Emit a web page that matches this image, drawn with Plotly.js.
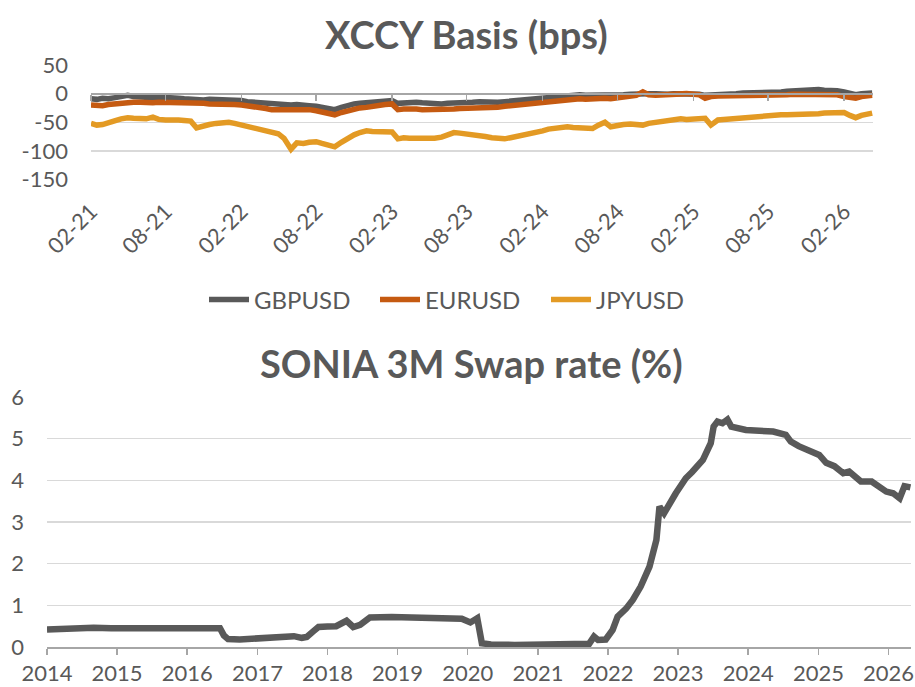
<!DOCTYPE html>
<html>
<head>
<meta charset="utf-8">
<script src="https://cdn.plot.ly/plotly-3.0.1.min.js"></script>
<style>html,body{margin:0;padding:0;background:#fff;}#chart{width:915px;height:687px;}</style>
</head>
<body>
<div id="chart"></div>
<script>
// ---- XCCY basis (bps), semi-monthly ----
var xccyDates = [
"2021-02-01","2021-02-15","2021-03-01","2021-03-15","2021-04-01","2021-04-15","2021-05-01","2021-05-15","2021-06-01","2021-06-15","2021-07-01","2021-07-15","2021-08-01","2021-08-15","2021-09-01","2021-09-15","2021-10-01","2021-10-15","2021-11-01","2021-11-15","2021-12-01","2021-12-15",
"2022-01-01","2022-01-15","2022-02-01","2022-02-15","2022-03-01","2022-03-15","2022-04-01","2022-04-15","2022-05-01","2022-05-15","2022-06-01","2022-06-15","2022-07-01","2022-07-15","2022-08-01","2022-08-15","2022-09-01","2022-09-15","2022-10-01","2022-10-15","2022-11-01","2022-11-15","2022-12-01","2022-12-15",
"2023-01-01","2023-01-15","2023-02-01","2023-02-15","2023-03-01","2023-03-15","2023-04-01","2023-04-15","2023-05-01","2023-05-15","2023-06-01","2023-06-15","2023-07-01","2023-07-15","2023-08-01","2023-08-15","2023-09-01","2023-09-15","2023-10-01","2023-10-15","2023-11-01","2023-11-15","2023-12-01","2023-12-15",
"2024-01-01","2024-01-15","2024-02-01","2024-02-15","2024-03-01","2024-03-15","2024-04-01","2024-04-15","2024-05-01","2024-05-15","2024-06-01","2024-06-15","2024-07-01","2024-07-15","2024-08-01","2024-08-15","2024-09-01","2024-09-15","2024-10-01","2024-10-15","2024-11-01","2024-11-15","2024-12-01","2024-12-15",
"2025-01-01","2025-01-15","2025-02-01","2025-02-15","2025-03-01","2025-03-15","2025-04-01","2025-04-15","2025-05-01","2025-05-15","2025-06-01","2025-06-15","2025-07-01","2025-07-15","2025-08-01","2025-08-15","2025-09-01","2025-09-15","2025-10-01","2025-10-15","2025-11-01","2025-11-15","2025-12-01","2025-12-15",
"2026-01-01","2026-01-15","2026-02-01","2026-02-15","2026-03-01","2026-03-15","2026-04-01","2026-04-10"
];
var gbpusd = [
-9,-10,-8,-9,-7,-5,-3,-5,-6,-5,-7,-6,-6,-7,-8,-9,-10,-9,-11,-10,-10,-11,
-11,-12,-12,-14,-15,-16,-17,-18,-19,-18,-20,-19,-19,-21,-22,-24,-26,-28,-24,-21,-18,-17,-16,-15,
-14,-13,-12,-17,-16,-15,-15,-16,-17,-18,-18,-17,-17,-16,-16,-15,-14,-15,-16,-15,-14,-13,-12,-11,
-10,-10,-9,-8,-7,-6,-5,-4,-2,-3,-3,-4,-3,-3,-2,-2,-1,0,1,0,0,-1,-1,0,
0,0,0,-1,-3,-2,-1,-1,0,0,1,1,2,1,2,3,3,4,5,5,6,6,7,6,
6,5,3,1,-2,0,1,1
];
var eurusd = [
-20,-21,-21,-19,-18,-16,-14,-15,-15,-16,-16,-15,-15,-16,-16,-17,-17,-16,-17,-18,-18,-17,
-19,-19,-20,-21,-22,-24,-26,-28,-28,-27,-27,-26,-26,-28,-30,-32,-35,-37,-33,-30,-27,-25,-24,-22,
-20,-19,-18,-28,-27,-26,-27,-28,-28,-29,-28,-27,-27,-26,-26,-25,-25,-24,-25,-24,-22,-21,-19,-18,
-17,-16,-15,-14,-13,-12,-11,-10,-9,-10,-9,-9,-8,-9,-8,-7,-6,-3,3,-2,-3,-2,-1,-1,
-1,0,-1,-2,-8,-5,-4,-4,-4,-3,-4,-3,-3,-3,-3,-2,-2,-2,-1,-1,0,0,0,0,
-1,-2,-5,-6,-8,-5,-3,-3
];
var jpyusd = [
-52,-55,-54,-50,-47,-44,-42,-43,-43,-44,-41,-45,-46,-45,-46,-47,-48,-60,-56,-54,-52,-51,
-50,-52,-55,-57,-60,-62,-66,-68,-70,-78,-97,-86,-87,-85,-84,-87,-89,-93,-85,-78,-72,-68,-65,-66,
-66,-67,-67,-79,-77,-78,-78,-79,-79,-78,-76,-72,-68,-69,-70,-72,-73,-75,-77,-79,-79,-77,-75,-72,
-70,-67,-65,-62,-60,-59,-58,-59,-60,-61,-61,-55,-50,-58,-55,-54,-53,-54,-55,-52,-50,-48,-46,-45,
-44,-45,-44,-43,-43,-55,-46,-45,-44,-43,-41,-41,-40,-39,-38,-38,-37,-37,-37,-36,-36,-35,-35,-34,
-34,-33,-33,-38,-42,-38,-35,-34
];
var xccyTicks = ["2021-02-01","2021-08-01","2022-02-01","2022-08-01","2023-02-01","2023-08-01","2024-02-01","2024-08-01","2025-02-01","2025-08-01","2026-02-01"];
var xccyTickText = ["02-21","08-21","02-22","08-22","02-23","08-23","02-24","08-24","02-25","08-25","02-26"];
var xccyYTicks = [50, 0, -50, -100, -150];
var xccyYTickText = ["50", "0", "-50", "-100", "-150"];

// ---- SONIA 3M swap rate (%) ----
var soniaDates = [
"2014-01-01","2014-03-01","2014-05-01","2014-06-15","2014-09-01","2014-12-01","2015-03-01","2015-06-01","2015-09-01","2015-12-01",
"2016-03-01","2016-05-15","2016-06-20","2016-07-10","2016-08-01","2016-10-01","2017-01-01","2017-04-01","2017-06-15","2017-07-10",
"2017-08-20","2017-09-15","2017-10-20","2017-11-15","2018-01-01","2018-02-15","2018-04-10","2018-05-15","2018-06-20","2018-08-10",
"2018-12-01","2019-04-01","2019-08-01","2019-12-01","2020-01-15","2020-02-20","2020-03-15","2020-05-01","2020-09-01","2021-01-01",
"2021-05-01","2021-09-01","2021-09-25","2021-10-20","2021-11-10","2021-12-20","2022-01-25","2022-02-20","2022-04-05","2022-05-10",
"2022-06-20","2022-08-05","2022-09-10","2022-09-26","2022-10-20","2022-12-20","2023-02-10","2023-03-15","2023-05-10","2023-06-20",
"2023-07-05","2023-07-25","2023-08-20","2023-09-15","2023-10-05","2023-12-20","2024-03-01","2024-05-10","2024-07-15","2024-08-10",
"2024-09-20","2024-10-30","2025-01-05","2025-02-10","2025-03-25","2025-05-10","2025-06-10","2025-08-10","2025-10-05","2025-12-20",
"2026-01-25","2026-02-28","2026-03-25","2026-04-25"
];
var sonia3m = [
0.42,0.43,0.44,0.47,0.46,0.45,0.45,0.46,0.47,0.47,
0.47,0.46,0.45,0.28,0.19,0.18,0.20,0.21,0.22,0.26,
0.22,0.24,0.38,0.48,0.49,0.50,0.63,0.48,0.53,0.71,
0.72,0.71,0.70,0.68,0.59,0.69,0.09,0.06,0.05,0.05,
0.05,0.07,0.08,0.25,0.17,0.18,0.41,0.73,0.92,1.13,
1.45,1.93,2.57,3.37,3.21,3.69,4.05,4.20,4.49,4.89,
5.29,5.41,5.37,5.46,5.29,5.21,5.19,5.17,5.09,4.93,
4.82,4.73,4.61,4.42,4.34,4.17,4.21,3.97,3.97,3.73,
3.69,3.57,3.86,3.83
];
var soniaTicks = ["2014-01-01","2015-01-01","2016-01-01","2017-01-01","2018-01-01","2019-01-01","2020-01-01","2021-01-01","2022-01-01","2023-01-01","2024-01-01","2025-01-01","2026-01-01"];
var soniaTickText = ["2014","2015","2016","2017","2018","2019","2020","2021","2022","2023","2024","2025","2026"];

var FONT = "Lato, 'Open Sans', sans-serif";
var TXT = "#595959";
var GRID = "#D9D9D9";
var AX = "#A6A6A6";

var topDom = [1 - 179.5/687, 1 - 65/687];
var botDom = [1 - 647/687, 1 - 397/687];
var topRange = [-150, 50];
var zeroPos = topDom[0] + (0 - topRange[0]) / (topRange[1] - topRange[0]) * (topDom[1] - topDom[0]);

var traces = [
  {x: [], y: [], type: "scatter", mode: "lines", xaxis: "x3", yaxis: "y", showlegend: false, hoverinfo: "skip"},
  {x: xccyDates, y: gbpusd, name: "GBPUSD", type: "scatter", mode: "lines", xaxis: "x", yaxis: "y",
   line: {color: "#595959", width: 5.5}},
  {x: xccyDates, y: eurusd, name: "EURUSD", type: "scatter", mode: "lines", xaxis: "x", yaxis: "y",
   line: {color: "#C55A11", width: 5.5}},
  {x: xccyDates, y: jpyusd, name: "JPYUSD", type: "scatter", mode: "lines", xaxis: "x", yaxis: "y",
   line: {color: "#E39A24", width: 5.5}},
  {x: soniaDates, y: sonia3m, name: "SONIA 3M", type: "scatter", mode: "lines", xaxis: "x2", yaxis: "y2",
   line: {color: "#595959", width: 6.5}, showlegend: false}
];

var xRangeTop = ["2021-02-01", "2026-04-12"];
var xRangeBot = ["2014-01-01", "2026-04-28"];

var layout = {
  width: 915, height: 687,
  margin: {l: 0, r: 0, t: 0, b: 0},
  paper_bgcolor: "#fff", plot_bgcolor: "#fff",
  font: {family: FONT, color: TXT, size: 22},
  showlegend: true,
  legend: {orientation: "h", x: 204/915, xanchor: "left", y: 1 - 300/687, yanchor: "middle",
           font: {family: FONT, size: 24, color: TXT}, itemwidth: 40,
           entrywidth: 116, entrywidthmode: "pixels", tracegroupgap: 0},
  xaxis: {domain: [91/915, 873/915], anchor: "y", type: "date", range: xRangeTop,
          tickvals: xccyTicks, ticktext: xccyTickText, tickangle: -45,
          showgrid: false, zeroline: false, showline: false, ticks: "",
          ticklabelstandoff: 14, tickfont: {family: FONT, size: 22, color: TXT}},
  yaxis: {domain: topDom, anchor: "x", range: topRange, tickvals: xccyYTicks, ticktext: xccyYTickText,
          showgrid: true, gridcolor: GRID, gridwidth: 1.5,
          zeroline: true, zerolinecolor: AX, zerolinewidth: 2, showline: false, ticks: "",
          ticklabelstandoff: 22, tickfont: {family: FONT, size: 22, color: TXT}},
  xaxis3: {overlaying: "x", anchor: "free", position: zeroPos, type: "date", range: xRangeTop,
           tickvals: xccyTicks, showticklabels: false, showgrid: false, zeroline: false,
           showline: true, linecolor: AX, linewidth: 2, ticks: "outside", ticklen: 6, tickcolor: AX, tickwidth: 1.5},
  xaxis2: {domain: [47/915, 911/915], anchor: "y2", type: "date", range: xRangeBot,
           tickvals: soniaTicks, ticktext: soniaTickText, tickangle: 0,
           showgrid: false, zeroline: false, showline: true, linecolor: AX, linewidth: 2,
           ticks: "outside", ticklen: 6, tickcolor: AX, tickwidth: 1.5,
           tickfont: {family: FONT, size: 22, color: TXT}},
  yaxis2: {domain: botDom, anchor: "x2", range: [0, 6], tickvals: [0, 1, 2, 3, 4, 5, 6],
           showgrid: true, gridcolor: GRID, gridwidth: 1.5, zeroline: false, showline: false, ticks: "",
           ticklabelstandoff: 22, tickfont: {family: FONT, size: 22, color: TXT}},
  annotations: [
    {text: "<b>XCCY Basis (bps)</b>", xref: "paper", yref: "paper", x: 467/915, y: 1 - 34/687,
     xanchor: "center", yanchor: "middle", showarrow: false, font: {family: FONT, size: 38, color: TXT}},
    {text: "<b>SONIA 3M Swap rate (%)</b>", xref: "paper", yref: "paper", x: 472/915, y: 1 - 363/687,
     xanchor: "center", yanchor: "middle", showarrow: false, font: {family: FONT, size: 38, color: TXT}}
  ]
};

Plotly.newPlot("chart", traces, layout, {staticPlot: true, displayModeBar: false});
</script>
</body>
</html>
